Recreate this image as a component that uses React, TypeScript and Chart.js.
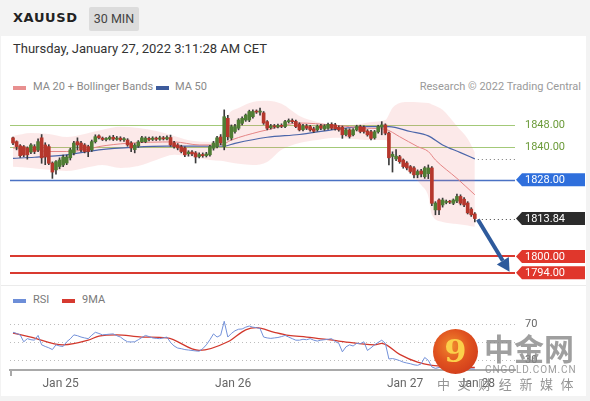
import React, { useEffect, useRef } from "react";
import { Chart, registerables } from "chart.js";

Chart.register(...registerables);
Chart.defaults.font.family = "Roboto";

// ---------------- data ----------------
const candleOpen = [
  1843.3, 1841.9, 1840.4, 1840.1, 1839.6, 1838.1, 1840.1, 1838.9, 1843.3, 1840.7,
  1840.1, 1834.1, 1831.6, 1832.8, 1833.4, 1834.1, 1836.0, 1837.8, 1841.9, 1841.4,
  1840.7, 1840.1, 1838.9, 1841.9, 1844.0, 1843.2, 1842.7, 1842.9, 1843.5, 1842.8,
  1843.2, 1842.6, 1842.5, 1841.4, 1839.0, 1840.3, 1841.9, 1841.9, 1843.1, 1842.7,
  1843.2, 1842.8, 1843.3, 1842.9, 1843.4, 1841.5, 1840.7, 1840.0, 1839.6, 1837.5,
  1838.1, 1837.8, 1836.5, 1837.2, 1836.8, 1837.1, 1839.5, 1840.1, 1843.6, 1840.1,
  1850.4, 1843.2, 1845.6, 1846.8, 1848.6, 1849.8, 1849.8, 1851.0, 1852.9, 1852.7,
  1852.4, 1849.2, 1847.0, 1847.6, 1847.3, 1847.8, 1847.4, 1849.2, 1849.6, 1849.3,
  1848.3, 1846.3, 1847.6, 1847.4, 1846.6, 1846.2, 1847.7, 1846.5, 1846.8, 1848.2,
  1848.0, 1847.2, 1847.2, 1844.5, 1846.2, 1844.4, 1846.2, 1847.4, 1847.2, 1845.8,
  1845.5, 1843.3, 1845.5, 1847.2, 1848.0, 1845.0, 1836.5, 1835.6, 1836.4, 1835.2,
  1834.1, 1832.8, 1832.3, 1829.8, 1831.2, 1829.1, 1830.2, 1832.3, 1817.0, 1820.6,
  1818.8, 1819.7, 1820.0, 1819.4, 1820.2, 1821.9, 1820.9, 1819.5, 1817.3, 1815.5,
];
const candleHigh = [
  1843.6, 1842.2, 1840.8, 1840.5, 1840.0, 1841.2, 1840.8, 1842.9, 1844.5, 1841.5,
  1840.8, 1834.5, 1835.0, 1836.0, 1837.0, 1837.0, 1839.5, 1842.0, 1843.3, 1842.0,
  1841.2, 1840.6, 1842.5, 1844.4, 1844.4, 1843.6, 1843.4, 1844.0, 1844.2, 1843.8,
  1843.7, 1843.4, 1843.0, 1841.9, 1841.2, 1842.3, 1843.8, 1843.7, 1843.6, 1843.7,
  1843.6, 1843.9, 1843.8, 1844.0, 1844.3, 1842.0, 1841.2, 1840.6, 1840.0, 1838.6,
  1838.6, 1838.3, 1837.8, 1837.8, 1838.0, 1840.6, 1842.0, 1843.8, 1844.5, 1853.5,
  1851.5, 1848.0, 1848.2, 1850.3, 1851.0, 1852.0, 1853.4, 1853.5, 1853.5, 1854.2,
  1852.9, 1849.6, 1848.2, 1848.2, 1848.3, 1848.4, 1849.7, 1850.2, 1850.2, 1849.8,
  1848.8, 1848.2, 1848.2, 1847.9, 1847.2, 1848.0, 1848.2, 1848.1, 1848.7, 1848.8,
  1848.6, 1847.7, 1847.6, 1846.7, 1846.6, 1846.7, 1847.9, 1847.9, 1847.7, 1846.3,
  1846.0, 1846.0, 1847.9, 1849.2, 1848.4, 1845.4, 1838.2, 1839.0, 1836.9, 1835.6,
  1834.6, 1833.2, 1832.8, 1831.6, 1831.8, 1832.8, 1833.4, 1832.8, 1820.0, 1821.0,
  1821.3, 1820.6, 1820.5, 1821.0, 1822.8, 1822.5, 1821.5, 1820.0, 1817.8, 1816.0,
];
const candleLow = [
  1840.8, 1838.9, 1836.1, 1836.4, 1835.5, 1837.5, 1837.5, 1838.2, 1834.0, 1833.5,
  1833.5, 1828.5, 1830.0, 1832.0, 1832.8, 1833.5, 1835.2, 1837.1, 1838.9, 1838.2,
  1837.8, 1836.4, 1838.3, 1841.4, 1842.9, 1842.3, 1842.2, 1842.5, 1842.3, 1842.4,
  1842.1, 1842.0, 1840.2, 1838.2, 1837.8, 1839.8, 1841.5, 1841.5, 1842.2, 1842.3,
  1842.3, 1842.4, 1842.5, 1842.5, 1840.2, 1839.5, 1838.9, 1837.8, 1836.4, 1836.6,
  1836.8, 1834.1, 1836.0, 1836.2, 1836.3, 1836.6, 1838.8, 1839.6, 1840.8, 1838.9,
  1842.5, 1842.5, 1845.0, 1846.2, 1848.0, 1849.3, 1849.2, 1850.5, 1852.2, 1851.6,
  1848.2, 1846.2, 1846.5, 1846.8, 1846.9, 1847.0, 1847.0, 1848.7, 1848.7, 1847.0,
  1845.8, 1845.8, 1846.3, 1845.7, 1845.2, 1845.7, 1846.3, 1846.0, 1846.4, 1846.3,
  1846.1, 1845.7, 1843.1, 1844.0, 1843.2, 1844.0, 1845.8, 1845.1, 1845.0, 1843.9,
  1842.5, 1842.8, 1845.0, 1844.4, 1844.4, 1833.4, 1830.8, 1835.0, 1834.0, 1832.2,
  1831.6, 1830.4, 1828.7, 1828.7, 1829.0, 1828.5, 1828.4, 1818.5, 1815.2, 1815.2,
  1818.0, 1819.2, 1819.3, 1818.9, 1819.6, 1818.8, 1818.2, 1815.5, 1814.6, 1812.6,
];
const candleClose = [
  1841.4, 1840.1, 1836.8, 1837.0, 1837.1, 1840.7, 1838.3, 1841.9, 1836.0, 1836.3,
  1834.0, 1830.8, 1834.6, 1835.2, 1836.3, 1836.3, 1838.9, 1841.4, 1840.7, 1838.9,
  1838.3, 1838.3, 1841.9, 1843.7, 1843.3, 1842.7, 1842.9, 1843.5, 1842.8, 1843.2,
  1842.6, 1842.9, 1840.7, 1839.6, 1840.6, 1841.8, 1843.3, 1843.2, 1842.7, 1843.2,
  1842.8, 1843.3, 1842.9, 1843.4, 1840.7, 1840.1, 1839.6, 1838.3, 1837.1, 1838.1,
  1837.4, 1836.3, 1837.2, 1836.8, 1837.4, 1840.1, 1841.4, 1843.3, 1841.4, 1851.0,
  1843.7, 1847.4, 1847.4, 1849.8, 1850.4, 1851.6, 1852.9, 1852.9, 1852.7, 1852.9,
  1848.7, 1846.8, 1847.6, 1847.3, 1847.8, 1847.5, 1849.2, 1849.6, 1849.2, 1847.4,
  1846.2, 1847.6, 1846.8, 1846.2, 1845.7, 1847.5, 1846.8, 1847.6, 1848.2, 1846.8,
  1846.6, 1846.2, 1844.4, 1846.2, 1843.8, 1846.2, 1847.4, 1845.6, 1845.6, 1844.4,
  1843.1, 1845.5, 1847.4, 1848.0, 1845.0, 1836.0, 1837.3, 1836.6, 1834.6, 1832.8,
  1832.3, 1831.0, 1829.8, 1831.0, 1830.1, 1832.3, 1832.3, 1819.4, 1819.5, 1817.0,
  1820.6, 1820.0, 1819.8, 1820.6, 1821.9, 1819.4, 1818.8, 1815.9, 1815.2, 1813.84,
];

const bandIndex = [0, 5, 10, 15, 20, 25, 30, 35, 40, 45, 50, 55, 58, 60, 63, 67, 71, 75, 80, 85, 90, 95, 100, 104, 106, 108, 110, 112, 114, 116, 117, 120, 124, 127, 129];
const bandUpper = [1844.0, 1845.1, 1844.7, 1843.6, 1844.7, 1846.2, 1847.3, 1846.9, 1845.8, 1844.0, 1842.2, 1841.8, 1844.4, 1851.6, 1854.2, 1856.4, 1856.8, 1855.7, 1851.3, 1849.1, 1848.0, 1848.0, 1849.1, 1849.8, 1854.2, 1856.0, 1856.4, 1856.4, 1856.2, 1856.0, 1855.5, 1853.5, 1847.5, 1843.0, 1838.0];
const bandLower = [1832.7, 1832.3, 1831.6, 1831.2, 1832.3, 1833.4, 1832.3, 1833.0, 1835.2, 1837.1, 1836.3, 1835.2, 1834.9, 1834.5, 1833.8, 1833.4, 1834.5, 1838.9, 1841.4, 1842.5, 1843.3, 1842.9, 1842.5, 1842.5, 1838.5, 1835.2, 1831.5, 1829.0, 1826.1, 1822.0, 1815.2, 1812.6, 1811.8, 1811.3, 1810.8];

const ma20Index = [0, 6, 10, 15, 20, 24, 32, 45, 52, 58, 61, 69, 71, 80, 89, 99, 104, 108, 113, 116, 118, 124, 129];
const ma20Value = [1839.6, 1838.9, 1838.3, 1838.3, 1838.9, 1840.1, 1841.3, 1841.8, 1840.7, 1840.7, 1842.5, 1845.6, 1846.2, 1848.7, 1848.0, 1846.8, 1846.4, 1843.7, 1840.1, 1838.3, 1835.2, 1828.5, 1822.5];

const ma50Index = [0, 6, 15, 24, 34, 43, 52, 59, 62, 71, 80, 89, 99, 105, 111, 116, 120, 125, 129];
const ma50Value = [1835.8, 1836.2, 1837.1, 1838.9, 1839.9, 1840.3, 1840.3, 1840.3, 1841.3, 1843.5, 1844.5, 1846.2, 1847.4, 1847.4, 1845.6, 1844.0, 1840.7, 1837.9, 1835.6];

const rsiValues = [
  61.3, 60.0, 58.4, 50.7, 54.2, 53.0, 52.5, 57.8, 47.3, 45.5,
  44.0, 42.0, 47.3, 46.0, 45.5, 50.7, 54.0, 58.4, 57.5, 56.0,
  55.0, 54.2, 58.0, 61.3, 60.0, 58.4, 58.8, 59.2, 59.5, 57.5,
  56.0, 53.0, 50.7, 50.5, 50.7, 53.0, 55.5, 57.8, 56.5, 55.0,
  54.5, 54.2, 55.0, 56.0, 50.0, 46.0, 43.7, 43.0, 42.0, 41.5,
  41.0, 40.5, 40.2, 43.0, 47.3, 53.0, 59.5, 56.0, 58.0, 73.6,
  56.0, 60.0, 63.0, 64.7, 65.0, 67.0, 68.3, 67.0, 66.5, 65.5,
  56.0, 55.0, 54.5, 55.0, 55.5, 56.5, 57.8, 56.0, 54.2, 52.5,
  52.5, 53.5, 53.0, 54.2, 52.5, 51.5, 52.5, 53.0, 53.5, 54.2,
  51.0, 49.0, 39.5, 45.0, 47.3, 46.0, 49.0, 48.5, 50.7, 41.0,
  44.0, 47.3, 50.0, 52.5, 49.0, 31.5, 32.0, 31.0, 29.7, 28.0,
  27.0, 26.2, 25.0, 24.4, 26.0, 33.2, 30.0, 22.6, 21.0, 22.0,
  23.0, 23.5, 23.0, 24.0, 26.0, 24.0, 23.0, 21.0, 20.5, 20.0,
];
const rsiMaIndex = [0, 5, 14, 21, 24, 29, 36, 43, 52, 60, 65, 68, 73, 77, 82, 91, 101, 103, 108, 113, 117, 122, 129];
const rsiMaValue = [60.5, 56.0, 47.3, 52.5, 57.0, 58.4, 56.0, 55.0, 41.0, 50.7, 64.1, 66.5, 61.3, 57.8, 56.0, 51.5, 47.3, 49.0, 36.7, 27.9, 24.4, 23.0, 22.0];

const resistanceLevels = [1848, 1840];
const pivotLevels = [1828];
const supportLevels = [1800, 1794];
const forecastTarget = 1794;
const forecastHorizon = 9.7; // bars ahead of the last candle

const dateTickIndex = [13.3, 61.5, 109.5, 129.6];
const dateTickLabels = ["Jan 25", "Jan 26", "Jan 27", "Jan 28"];
const rsiGuides = [70, 50, 30];
const rsiTickValues = [70, 30];

// ---------------- layout / style ----------------
const W = 590;
const X_MIN = -0.84;
const X_MAX = 140.22;
const PRICE_MIN = 1790.3;
const PRICE_MAX = 1858.2;
const RSI_MIN = 19.2;
const RSI_MAX = 84.4;

const UP = "#4f7d34";
const DOWN = "#b5372c";
const RES_COLOR = "#a3c978";
const RES_TEXT = "#6c9b3a";
const PIVOT_COLOR = "#2f6fdc";
const SUPPORT_COLOR = "#e0372c";

function tag(ctx: CanvasRenderingContext2D, left: number, yc: number, color: string, text: string) {
  const h = 13;
  const right = 585;
  ctx.fillStyle = color;
  ctx.beginPath();
  ctx.moveTo(left, yc);
  ctx.lineTo(left + 6, yc - h / 2);
  ctx.lineTo(right, yc - h / 2);
  ctx.lineTo(right, yc + h / 2);
  ctx.lineTo(left + 6, yc + h / 2);
  ctx.closePath();
  ctx.fill();
  ctx.fillStyle = "#fff";
  ctx.font = "11px Roboto";
  ctx.textBaseline = "middle";
  ctx.textAlign = "left";
  ctx.fillText(text, left + 9, yc + 0.5);
}

const levelPlugin = {
  id: "levels",
  beforeDatasetsDraw(chart: any) {
    const { ctx, chartArea: a, scales } = chart;
    const y = scales.y;
    ctx.save();
    const line = (v: number, color: string, w: number) => {
      const py = Math.round(y.getPixelForValue(v)) + (w % 2 ? 0.5 : 0);
      ctx.strokeStyle = color;
      ctx.lineWidth = w;
      ctx.beginPath();
      ctx.moveTo(a.left, py);
      ctx.lineTo(a.right, py);
      ctx.stroke();
    };
    resistanceLevels.forEach((v) => line(v, RES_COLOR, 1));
    pivotLevels.forEach((v) => line(v, "#4a72c4", 1.5));
    supportLevels.forEach((v) => line(v, "#d93a30", 2));
    ctx.restore();
  },
  afterDatasetsDraw(chart: any) {
    const { ctx, chartArea: a, scales } = chart;
    const x = scales.x;
    const y = scales.y;
    const last = candleClose.length - 1;
    const lastClose = candleClose[last];
    const lastX = x.getPixelForValue(last);
    ctx.save();
    ctx.setLineDash([1, 3]);
    ctx.lineWidth = 1;
    ctx.strokeStyle = "#777";
    const maY = Math.round(y.getPixelForValue(ma50Value[ma50Value.length - 1])) + 0.5;
    ctx.beginPath();
    ctx.moveTo(lastX + 3, maY);
    ctx.lineTo(a.right, maY);
    ctx.stroke();
    ctx.strokeStyle = "#444";
    const pY = Math.round(y.getPixelForValue(lastClose)) + 0.5;
    ctx.beginPath();
    ctx.moveTo(lastX + 3, pY);
    ctx.lineTo(a.right, pY);
    ctx.stroke();
    ctx.setLineDash([]);

    // forecast arrow
    const x0 = lastX + 3;
    const y0 = y.getPixelForValue(lastClose) + 1;
    const x1 = x.getPixelForValue(last + forecastHorizon);
    const y1 = y.getPixelForValue(forecastTarget) - 1;
    const ang = Math.atan2(y1 - y0, x1 - x0);
    const headL = 13;
    const headW = 7;
    const bx = x1 - headL * Math.cos(ang);
    const by = y1 - headL * Math.sin(ang);
    ctx.strokeStyle = "#2e5a9c";
    ctx.fillStyle = "#2e5a9c";
    ctx.lineWidth = 4;
    ctx.beginPath();
    ctx.moveTo(x0, y0);
    ctx.lineTo(bx, by);
    ctx.stroke();
    ctx.beginPath();
    ctx.moveTo(x1, y1);
    ctx.lineTo(bx + headW * Math.sin(ang), by - headW * Math.cos(ang));
    ctx.lineTo(bx - headW * Math.sin(ang), by + headW * Math.cos(ang));
    ctx.closePath();
    ctx.fill();

    // labels
    const left = a.right + 1;
    ctx.font = "11px Roboto";
    ctx.textBaseline = "middle";
    ctx.textAlign = "left";
    resistanceLevels.forEach((v) => {
      ctx.fillStyle = RES_TEXT;
      ctx.fillText(v.toFixed(2), left + 9, y.getPixelForValue(v) + 0.5);
    });
    pivotLevels.forEach((v) => tag(ctx, left, y.getPixelForValue(v), PIVOT_COLOR, v.toFixed(2)));
    tag(ctx, left, y.getPixelForValue(lastClose), "#2b2b2b", lastClose.toFixed(2));
    supportLevels.forEach((v) => tag(ctx, left, y.getPixelForValue(v), SUPPORT_COLOR, v.toFixed(2)));
    ctx.restore();
  },
};

const rsiPlugin = {
  id: "rsiGuides",
  beforeDatasetsDraw(chart: any) {
    const { ctx, chartArea: a, scales } = chart;
    ctx.save();
    ctx.setLineDash([1, 3]);
    ctx.strokeStyle = "#bdbdbd";
    ctx.lineWidth = 1;
    rsiGuides.forEach((v) => {
      const py = Math.round(scales.y.getPixelForValue(v)) + 0.5;
      ctx.beginPath();
      ctx.moveTo(a.left, py);
      ctx.lineTo(a.right, py);
      ctx.stroke();
    });
    ctx.restore();
  },
  afterDraw(chart: any) {
    const { ctx, chartArea: a } = chart;
    ctx.save();
    ctx.strokeStyle = "#a9a9a9";
    ctx.lineWidth = 2;
    ctx.beginPath();
    ctx.moveTo(a.left + 1, a.bottom);
    ctx.lineTo(a.left + 1, a.bottom + 6);
    ctx.stroke();
    ctx.restore();
  },
};

function PriceChart() {
  const ref = useRef<HTMLCanvasElement>(null);
  useEffect(() => {
    const wick = candleClose.map((c, i) => ({ x: i, y: [candleLow[i], candleHigh[i]] }));
    const body = candleClose.map((c, i) => ({ x: i, y: [Math.min(candleOpen[i], c), Math.max(candleOpen[i], c)] }));
    const bodyColor = candleClose.map((c, i) => (c >= candleOpen[i] ? UP : DOWN));
    const chart = new Chart(ref.current as HTMLCanvasElement, {
      type: "bar",
      data: {
        datasets: [
          {
            type: "line",
            data: bandIndex.map((x, k) => ({ x, y: bandUpper[k] })),
            borderWidth: 0,
            borderColor: "rgba(0,0,0,0)",
            pointRadius: 0,
            fill: "+1",
            backgroundColor: "rgba(240,125,125,0.17)",
            cubicInterpolationMode: "monotone",
            order: 10,
          },
          {
            type: "line",
            data: bandIndex.map((x, k) => ({ x, y: bandLower[k] })),
            borderWidth: 0,
            borderColor: "rgba(0,0,0,0)",
            pointRadius: 0,
            fill: false,
            cubicInterpolationMode: "monotone",
            order: 9,
          },
          {
            type: "line",
            data: ma50Index.map((x, k) => ({ x, y: ma50Value[k] })),
            borderColor: "#4b66aa",
            borderWidth: 1.2,
            pointRadius: 0,
            fill: false,
            cubicInterpolationMode: "monotone",
            order: 6,
          },
          {
            type: "line",
            data: ma20Index.map((x, k) => ({ x, y: ma20Value[k] })),
            borderColor: "#e58585",
            borderWidth: 1,
            pointRadius: 0,
            fill: false,
            cubicInterpolationMode: "monotone",
            order: 5,
          },
          {
            type: "bar",
            data: wick as any,
            backgroundColor: "#3a3a3a",
            barThickness: 1,
            grouped: false,
            order: 2,
          },
          {
            type: "bar",
            data: body as any,
            backgroundColor: bodyColor,
            barThickness: 3,
            minBarLength: 1,
            grouped: false,
            order: 1,
          },
        ] as any,
      },
      options: {
        animation: false,
        responsive: false,
        maintainAspectRatio: false,
        layout: { padding: { left: 10, right: 75, top: 2, bottom: 2 } },
        plugins: { legend: { display: false }, tooltip: { enabled: false } },
        scales: {
          x: { type: "linear", min: X_MIN, max: X_MAX, display: false, offset: false },
          y: { type: "linear", min: PRICE_MIN, max: PRICE_MAX, display: false },
        },
      } as any,
      plugins: [levelPlugin as any],
    });
    return () => chart.destroy();
  }, []);
  return <canvas ref={ref} width={W} height={190} style={{ position: "absolute", left: 0, top: 95 }} />;
}

function RsiChart() {
  const ref = useRef<HTMLCanvasElement>(null);
  useEffect(() => {
    const chart = new Chart(ref.current as HTMLCanvasElement, {
      type: "line",
      data: {
        datasets: [
          {
            data: rsiValues.map((v, i) => ({ x: i, y: v })),
            borderColor: "#7391d9",
            borderWidth: 1,
            pointRadius: 0,
            tension: 0,
          },
          {
            data: rsiMaIndex.map((x, k) => ({ x, y: rsiMaValue[k] })),
            borderColor: "#d2382c",
            borderWidth: 1.3,
            pointRadius: 0,
            cubicInterpolationMode: "monotone",
          },
        ] as any,
      },
      options: {
        animation: false,
        responsive: false,
        maintainAspectRatio: false,
        layout: { padding: { left: 10, top: 13, right: 0, bottom: 0 } },
        plugins: { legend: { display: false }, tooltip: { enabled: false } },
        scales: {
          x: {
            type: "linear",
            min: X_MIN,
            max: X_MAX,
            position: "bottom",
            grid: { display: false, drawTicks: false },
            border: { display: true, color: "#a9a9a9", width: 2 },
            ticks: {
              color: "#666",
              font: { size: 12 },
              padding: 7,
              autoSkip: false,
              maxRotation: 0,
              callback: (v: any) => {
                const k = dateTickIndex.indexOf(Number(v));
                return k >= 0 ? dateTickLabels[k] : "";
              },
            },
            afterBuildTicks: (s: any) => {
              s.ticks = dateTickIndex.map((v) => ({ value: v }));
            },
            afterFit: (s: any) => {
              s.height = 25;
            },
          },
          y: {
            type: "linear",
            position: "right",
            min: RSI_MIN,
            max: RSI_MAX,
            grid: { display: false, drawTicks: false },
            border: { display: false },
            ticks: { color: "#666", font: { size: 11 }, padding: 10, callback: (v: any) => String(v) },
            afterBuildTicks: (s: any) => {
              s.ticks = rsiTickValues.map((v) => ({ value: v }));
            },
            afterFit: (s: any) => {
              s.width = 75;
            },
          },
        },
      } as any,
      plugins: [rsiPlugin as any],
    });
    return () => chart.destroy();
  }, []);
  return <canvas ref={ref} width={W} height={100} style={{ position: "absolute", left: 0, top: 295 }} />;
}

const abs = (s: React.CSSProperties): React.CSSProperties => ({ position: "absolute", whiteSpace: "nowrap", ...s });

export default function App() {
  return (
    <div
      style={{
        position: "fixed",
        left: 0,
        top: 0,
        width: 590,
        height: 401,
        overflow: "hidden",
        background: "#f3f3f3",
        fontFamily: "Roboto, sans-serif",
      }}
    >
      <div style={abs({ left: 1, top: 36, width: 585, height: 360, background: "#fff" })} />
      <div style={abs({ left: 13, top: 10, lineHeight: "16px", fontSize: 13, fontWeight: 700, fontFamily: "'DejaVu Sans'", letterSpacing: 0.6, color: "#222" })}>
        XAUUSD
      </div>
      <div
        style={abs({
          left: 89,
          top: 7,
          width: 50,
          height: 24,
          background: "#dcdcdc",
          borderRadius: 2,
          textAlign: "center",
          lineHeight: "24px",
          fontSize: 12.5,
          color: "#444",
        })}
      >
        30 MIN
      </div>
      <div style={abs({ left: 13, top: 41, lineHeight: "16px", fontSize: 13, color: "#333" })}>
        Thursday, January 27, 2022 3:11:28 AM CET
      </div>

      <div style={abs({ left: 13, top: 86, width: 13, height: 4, background: "#e89090" })} />
      <div style={abs({ left: 33, top: 80, lineHeight: "14px", fontSize: 11, color: "#8a8a8a" })}>MA 20 + Bollinger Bands</div>
      <div style={abs({ left: 156, top: 86, width: 13, height: 4, background: "#3d5b9c" })} />
      <div style={abs({ left: 175, top: 80, lineHeight: "14px", fontSize: 11, color: "#8a8a8a" })}>MA 50</div>
      <div style={abs({ right: 9, top: 80, lineHeight: "14px", fontSize: 11, color: "#9a9a9a" })}>Research © 2022 Trading Central</div>

      <PriceChart />

      <div style={abs({ left: 1, top: 285, width: 585, height: 1, background: "#ebebeb" })} />
      <div style={abs({ left: 13, top: 299, width: 13, height: 4, background: "#6d8ed8" })} />
      <div style={abs({ left: 33, top: 293, lineHeight: "14px", fontSize: 11, color: "#7a7a7a" })}>RSI</div>
      <div style={abs({ left: 62, top: 299, width: 13, height: 4, background: "#d63a30" })} />
      <div style={abs({ left: 82, top: 293, lineHeight: "14px", fontSize: 11, color: "#7a7a7a" })}>9MA</div>

      <RsiChart />

      {/* watermark */}
      <div
        style={abs({
          left: 433,
          top: 329,
          width: 45,
          height: 45,
          borderRadius: "50%",
          background: "radial-gradient(circle at 42% 38%, #f08a2e 0%, #e0521f 45%, #c7301a 100%)",
          textAlign: "center",
          lineHeight: "45px",
          fontSize: 32,
          fontWeight: 700,
          fontFamily: "'DejaVu Serif'",
          color: "#fbd04a",
        })}
      >
        9
      </div>
      <div
        style={abs({
          left: 484,
          top: 331,
          lineHeight: "32px",
          fontSize: 30,
          fontWeight: 700,
          fontFamily: "'Noto Sans CJK SC'",
          color: "rgba(135,135,135,0.8)",
        })}
      >
        中金网
      </div>
      <div style={abs({ left: 485, top: 364, lineHeight: "11px", fontSize: 10, letterSpacing: 0.9, color: "rgba(140,140,140,0.85)" })}>
        CNGOLD.COM.CN
      </div>
      <div
        style={abs({
          left: 437,
          top: 376,
          lineHeight: "15px",
          fontSize: 13,
          letterSpacing: 7.6,
          fontFamily: "'Noto Sans CJK SC'",
          color: "rgba(130,130,130,0.85)",
        })}
      >
        中文财经新媒体
      </div>
    </div>
  );
}
